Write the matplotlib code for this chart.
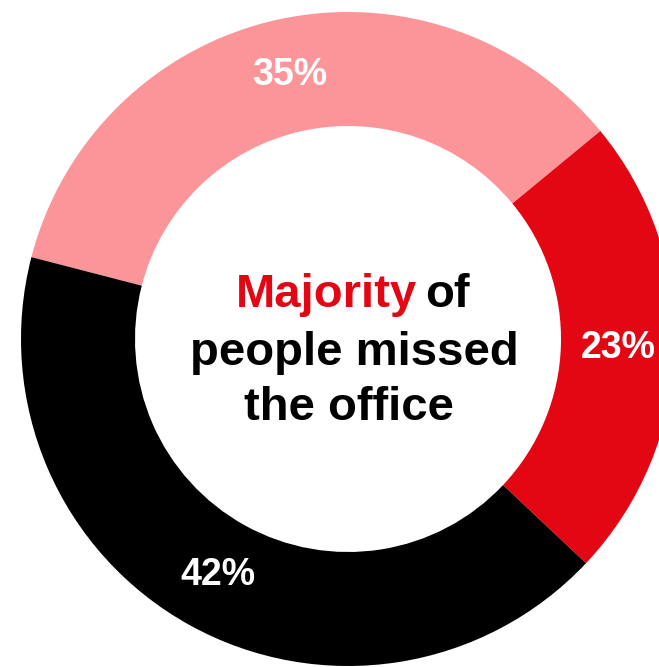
import matplotlib
matplotlib.use("Agg")
import matplotlib.pyplot as plt

# data
labels = ["Missed", "Did not miss", "Neutral"]
shares = [35, 23, 42]
colors = ["#FC959A", "#E30613", "#000000"]

W, H = 659, 667
fig = plt.figure(figsize=(W / 100, H / 100), dpi=100)
ax = fig.add_axes([0, 0, 1, 1])

# pixel-like coordinates, y measured upward
cx, cy = 348, H - 339
R, ring = 327, 114

wedges, texts, autotexts = ax.pie(
    shares, colors=colors, startangle=165.5, counterclock=False,
    radius=R, center=(cx, cy),
    wedgeprops=dict(width=ring, linewidth=0),
    autopct=lambda p: f"{p:.0f}%", pctdistance=1 - ring / (2 * R),
    textprops=dict(color="white", fontsize=27, fontweight="bold",
                   family="Liberation Sans"))

ax.set_xlim(0, W)
ax.set_ylim(0, H)
ax.set_aspect("auto")
ax.axis("off")

font = dict(fontsize=34, fontweight="bold", family="Liberation Sans", va="baseline")
ax.text(417, H - 307, "Majority", color="#E30613", ha="right", **font)
ax.text(425, H - 307, "of", color="black", ha="left", **font)
ax.text(cx + 6, H - 365, "people missed", color="black", ha="center", **font)
ax.text(cx + 1, H - 420, "the office", color="black", ha="center", **font)

fig.savefig("out.png", dpi=100)
